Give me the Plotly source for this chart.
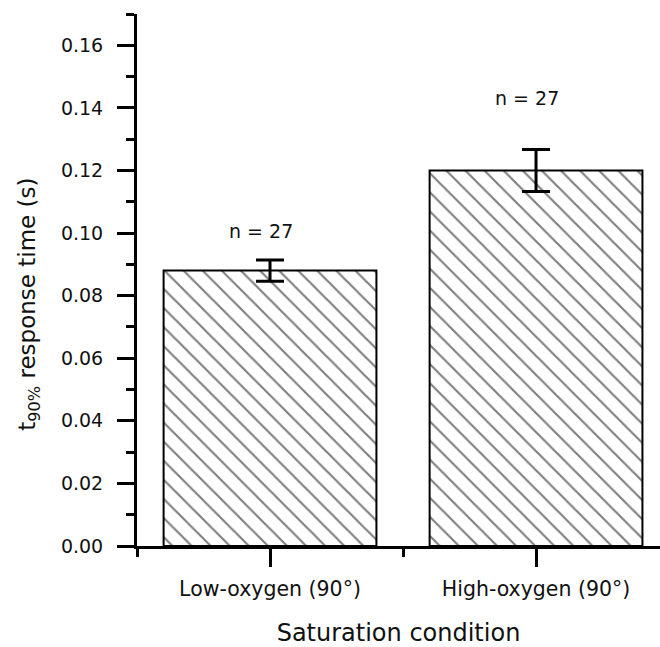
import plotly.graph_objects as go

# Mean t90% response time per saturation condition, with error bars
categories = ["Low-oxygen (90°)", "High-oxygen (90°)"]
means = [0.088, 0.120]
errors = [0.0034, 0.0067]
n_counts = [27, 27]
n_label_y = [0.1005, 0.1431]

y_ticks = [0.00, 0.02, 0.04, 0.06, 0.08, 0.10, 0.12, 0.14, 0.16]

FONT = "DejaVu Sans"
INK = "#111111"

x_pos = list(range(len(categories)))

fig = go.Figure()
fig.add_trace(go.Bar(
    x=x_pos,
    y=means,
    width=0.8,
    marker=dict(
        color="white",
        line=dict(color="black", width=2),
        pattern=dict(shape="\\", size=13.5, solidity=0.16,
                     fgcolor="black", bgcolor="white"),
    ),
    error_y=dict(type="data", array=errors, color="black",
                 thickness=3, width=14),
    showlegend=False,
))

for xi, n, yl in zip(x_pos, n_counts, n_label_y):
    fig.add_annotation(x=xi, y=yl, text=f"n = {n}", showarrow=False,
                       xshift=-9, font=dict(family=FONT, size=19, color=INK))

# Rotated y-axis title, placed in paper coordinates
fig.add_annotation(
    xref="paper", yref="paper", x=-0.207, y=0.455,
    xanchor="center", yanchor="middle",
    text="t<sub>90%</sub> response time (s)", textangle=-90,
    showarrow=False, font=dict(family=FONT, size=23, color=INK),
)

fig.update_layout(
    width=660, height=647,
    margin=dict(l=137, r=0, t=14, b=101),
    paper_bgcolor="white", plot_bgcolor="white",
    font=dict(family=FONT, color=INK),
    bargap=0.2,
)

fig.update_xaxes(
    range=[-0.5, 1.466],
    tickvals=x_pos, ticktext=categories,
    ticks="outside", ticklen=18, tickwidth=3, tickcolor="black",
    minor=dict(tickvals=[-0.5, 0.5, 1.5], ticks="outside", ticklen=8,
               tickwidth=3, tickcolor="black"),
    showline=True, linewidth=3, linecolor="black",
    showgrid=False, zeroline=False,
    tickfont=dict(family=FONT, size=20.5, color=INK),
    ticklabelstandoff=4,
    title=dict(text="Saturation condition", standoff=27,
               font=dict(family=FONT, size=24, color=INK)),
)

fig.update_yaxes(
    range=[0, 0.17],
    tickvals=y_ticks, tickformat=".2f",
    ticks="outside", ticklen=17, tickwidth=3, tickcolor="black",
    minor=dict(dtick=0.01, tick0=0, ticks="outside", ticklen=8,
               tickwidth=3, tickcolor="black"),
    showline=True, linewidth=3, linecolor="black",
    showgrid=False, zeroline=False,
    tickfont=dict(family=FONT, size=19, color=INK),
    ticklabelstandoff=10,
)

fig.write_html("out.html")
